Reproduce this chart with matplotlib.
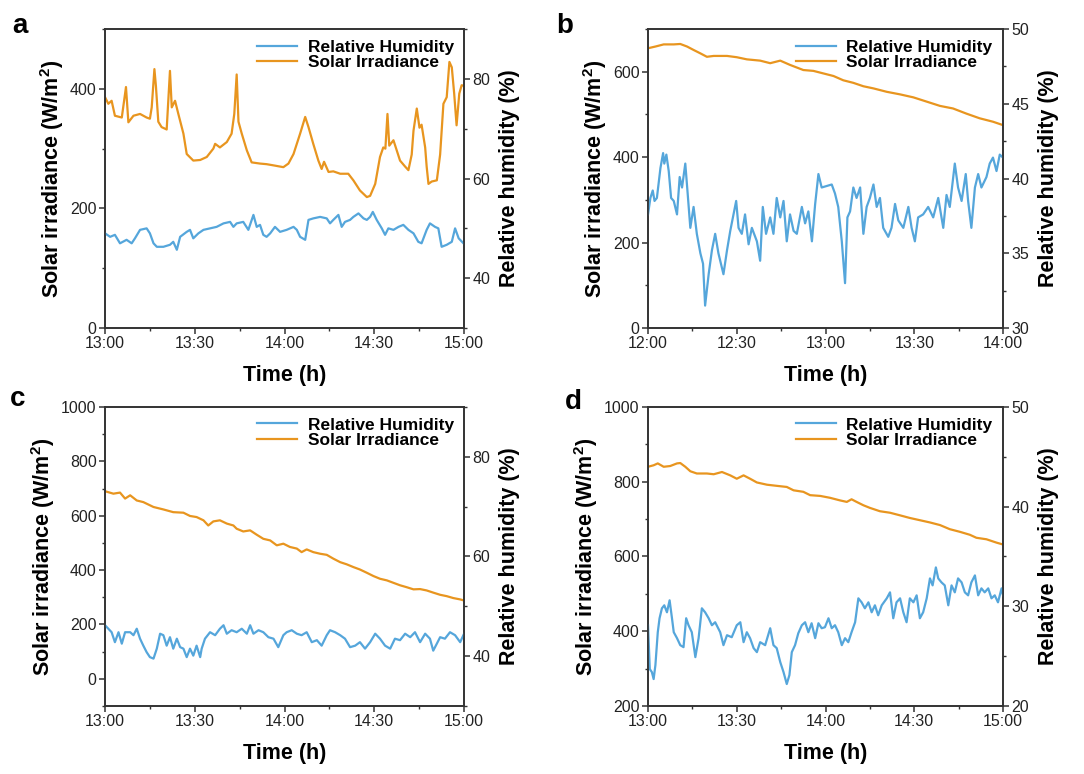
import matplotlib
matplotlib.use("Agg")
import matplotlib.pyplot as plt
from matplotlib.ticker import MultipleLocator

plt.rcParams['font.family'] = ['Liberation Sans', 'DejaVu Sans']
plt.rcParams['mathtext.fontset'] = 'custom'
plt.rcParams['mathtext.rm'] = 'Liberation Sans'
plt.rcParams['mathtext.bf'] = 'Liberation Sans:bold'

BLUE = '#55a6db'
ORANGE = '#e8951f'

# ---- panel a (13:00 - 15:00), minutes after start ----
a_si_t = [0, 1.1, 2.2, 3.3, 5.6, 7.0, 7.8, 9.5, 11.7, 13.9, 15.0, 15.6, 16.5, 17.0, 17.8, 18.9,
          20.6, 21.7, 22.3, 23.4, 24.5, 26.2, 27.3, 29.5, 31.8, 34.0, 36.2, 36.8, 38.4, 40.7,
          42.3, 43.2, 44.0, 44.6, 45.7, 47.4, 49.0, 51.8, 54.0, 56.3, 59.6, 61.3, 63.0, 65.2,
          66.9, 68.0, 69.6, 71.3, 72.4, 73.2, 74.7, 76.3, 78.6, 81.3, 83.0, 85.2, 87.5, 88.6,
          90.3, 91.9, 93.0, 93.7, 94.4, 95.0, 96.4, 97.5, 98.6, 100.3, 101.4, 102.5, 103.1,
          104.2, 105.1, 105.8, 107.0, 107.5, 108.1, 109.2, 110.9, 112.0, 113.1, 114.2, 115.1,
          115.9, 116.7, 117.5, 118.4, 119.2, 120]
a_si = [386, 375, 380, 355, 352, 403, 344, 355, 358, 352, 350, 369, 433, 405, 345, 336,
        332, 430, 369, 380, 358, 325, 291, 280, 281, 286, 300, 308, 302, 311,
        325, 358, 424, 345, 325, 297, 277, 275, 274, 272, 269, 275, 291, 325,
        353, 336, 308, 280, 266, 278, 261, 262, 258, 258, 247, 230, 219, 221,
        241, 286, 302, 300, 358, 305, 314, 297, 280, 270, 264, 290, 330,
        367, 335, 340, 302, 270, 241, 245, 247, 290, 375, 386, 445,
        436, 392, 339, 392, 406, 405]
a_rh_t = [0, 1.7, 3.3, 5.0, 7.2, 8.9, 10.0, 11.7, 13.9, 15.0, 16.2, 17.3, 19.5, 21.7, 22.8,
          24.0, 25.1, 27.3, 28.4, 29.5, 31.2, 32.9, 35.1, 37.3, 39.6, 41.8, 42.9, 44.0, 46.2,
          47.9, 49.6, 50.7, 51.8, 52.9, 54.0, 55.2, 56.8, 58.5, 60.7, 63.0, 64.1, 65.2, 66.9,
          68.0, 69.6, 71.9, 74.1, 75.2, 76.3, 78.0, 79.1, 80.2, 81.9, 83.0, 84.7, 86.4, 87.5,
          88.6, 89.5, 90.8, 92.5, 93.6, 94.7, 96.4, 98.1, 99.7, 101.4, 103.1, 104.7, 105.8,
          107.5, 108.6, 110.3, 111.4, 112.5, 114.2, 115.9, 117.0, 118.2, 119.8]
a_rh = [49.0, 48.3, 48.7, 47.0, 47.7, 47.0, 48.0, 49.7, 50.0, 49.0, 47.0, 46.3, 46.3, 46.7, 47.3,
        45.7, 48.3, 49.3, 49.7, 48.0, 49.0, 49.7, 50.0, 50.3, 51.0, 51.3, 50.3, 51.0, 51.3,
        49.7, 52.7, 50.3, 50.7, 48.7, 48.3, 49.0, 50.3, 49.3, 49.7, 50.3, 49.7, 48.3, 47.7,
        51.7, 52.0, 52.3, 52.0, 51.0, 51.7, 52.7, 50.3, 51.3, 51.7, 52.3, 53.0, 52.0, 51.7,
        52.3, 53.3, 51.7, 50.0, 48.7, 50.0, 49.7, 50.3, 50.7, 49.7, 49.0, 47.3, 47.0,
        49.7, 51.0, 50.3, 50.0, 46.3, 46.7, 47.3, 50.0, 48.0, 47.0]

# ---- panel b (12:00 - 14:00) ----
b_si_t = [0, 2.5, 5.3, 8.7, 10.9, 13.2, 15.4, 17.7, 19.9, 22.2, 26.7, 30.0, 33.4, 37.9, 41.3,
          44.7, 48.0, 52.5, 55.9, 59.3, 62.7, 66.0, 69.4, 72.8, 76.2, 80.7, 85.2, 89.7, 94.2,
          98.7, 103.1, 107.6, 112.1, 116.6, 120]
b_si = [655, 659, 664, 664, 665, 659, 651, 643, 635, 637, 637, 634, 629, 626, 620,
        626, 616, 604, 602, 596, 590, 580, 574, 566, 561, 553, 547, 540, 530,
        520, 514, 502, 491, 483, 475]
b_rh_t = [0.0, 0.8, 1.6, 2.2, 3.0, 4.2, 5.1, 5.5, 6.2, 7.0, 7.8, 8.7, 9.8, 10.7, 11.5, 12.6,
          13.4, 14.3, 15.4, 16.5, 17.7, 18.6, 19.3, 20.5, 21.6, 22.7, 23.8, 25.5, 26.7, 27.8,
          28.9, 29.8, 30.6, 31.7, 32.8, 34.0, 35.1, 36.8, 37.9, 38.8, 39.9, 41.3, 42.4, 43.5,
          44.7, 45.8, 46.9, 48.0, 49.2, 50.3, 52.0, 53.1, 54.2, 55.4, 56.5, 57.6, 58.7, 60.4,
          62.1, 63.2, 64.3, 65.5, 66.6, 67.4, 68.3, 69.4, 70.5, 71.7, 72.8, 73.9, 75.0, 76.2,
          77.3, 78.4, 79.5, 81.2, 82.3, 83.5, 84.6, 86.3, 88.0, 89.1, 90.2, 91.3, 93.0, 94.7,
          96.4, 98.1, 99.8, 100.9, 102.0, 103.7, 104.8, 106.0, 107.4, 108.2, 109.3, 110.5,
          111.6, 112.7, 114.4, 115.5, 116.6, 117.8, 118.9, 120.0]
b_rh = [37.6, 38.7, 39.2, 38.5, 38.7, 40.7, 41.7, 41.0, 41.6, 40.5, 38.7, 38.5, 37.6, 40.1, 39.4, 41.0,
        39.0, 36.7, 38.1, 36.3, 35.0, 34.3, 31.5, 33.6, 35.2, 36.3, 35.0, 33.6, 35.2, 36.5,
        37.6, 38.5, 36.7, 36.3, 37.6, 35.6, 36.7, 35.8, 34.5, 38.1, 36.3, 37.4, 36.3, 38.7,
        37.4, 38.5, 35.8, 37.6, 36.5, 36.3, 38.1, 37.0, 37.8, 35.8, 38.3, 40.3, 39.4, 39.5,
        39.6, 39.0, 38.1, 35.8, 33.0, 37.4, 37.8, 39.4, 38.7, 39.4, 36.3, 38.1, 38.7, 39.6,
        38.1, 38.7, 36.7, 36.1, 36.7, 38.3, 37.2, 36.7, 38.1, 36.7, 35.8, 37.4, 37.6, 38.1,
        37.4, 38.7, 36.7, 38.9, 38.1, 41.0, 39.4, 38.5, 40.3, 38.5, 36.7, 39.4,
        40.3, 39.4, 40.1, 41.0, 41.4, 40.5, 41.6, 41.4]

# ---- panel c (13:00 - 15:00) ----
c_si_t = [0, 2.8, 5.0, 6.7, 8.4, 10.6, 12.8, 16.2, 19.5, 22.8, 26.2, 28.4, 30.6, 32.9, 34.5,
          36.2, 38.4, 40.7, 42.9, 44.0, 46.2, 48.5, 50.7, 52.9, 55.2, 57.4, 59.6, 61.8, 64.1,
          65.7, 67.4, 69.6, 71.9, 74.1, 76.3, 78.6, 80.8, 83.0, 85.2, 87.5, 89.7, 91.9, 94.2,
          96.4, 98.6, 100.8, 103.1, 105.3, 107.5, 109.7, 112.0, 114.2, 116.4, 118.7, 120]
c_si = [690, 681, 685, 663, 675, 656, 650, 632, 623, 613, 611, 599, 595, 583, 564,
        579, 583, 571, 564, 552, 542, 546, 530, 515, 509, 491, 497, 485, 479,
        466, 476, 466, 460, 456, 442, 429, 421, 411, 402, 390, 378, 368, 362,
        353, 344, 337, 329, 330, 325, 317, 309, 304, 297, 292, 288]
c_rh_t = [0, 1.1, 2.2, 3.3, 4.5, 5.6, 6.7, 8.4, 9.5, 10.6, 11.7, 12.8, 13.9, 15.0, 16.2, 17.3,
          18.4, 19.5, 20.6, 21.7, 22.8, 24.0, 25.1, 26.2, 27.3, 28.4, 29.5, 30.6, 31.8, 32.3,
          33.4, 35.1, 36.8, 38.4, 39.6, 40.7, 42.3, 44.0, 45.7, 47.4, 48.5, 49.6, 51.3, 52.9,
          54.6, 56.3, 57.9, 59.6, 60.7, 62.4, 64.1, 65.7, 67.4, 69.1, 70.8, 72.4, 74.1, 75.2,
          76.9, 78.6, 80.2, 81.9, 83.6, 85.2, 86.9, 88.6, 90.3, 91.9, 93.6, 95.3, 96.9, 98.6,
          100.3, 102.0, 103.6, 105.3, 107.0, 108.6, 109.7, 110.9, 112.0, 113.6, 115.3, 117.0,
          118.7, 120]
c_rh = [46.2, 45.5, 44.8, 42.8, 44.8, 42.5, 44.8, 44.8, 44.2, 45.5, 43.5, 42.1, 40.8, 39.8, 39.5, 41.5,
        44.5, 44.2, 42.1, 43.8, 41.5, 43.5, 41.8, 41.5, 39.8, 41.5, 40.1, 42.1, 39.8, 41.5,
        43.5, 44.8, 44.2, 45.5, 46.2, 44.5, 45.2, 44.8, 45.5, 44.5, 46.2, 44.5, 45.2, 44.8,
        43.8, 43.5, 41.8, 44.2, 44.8, 45.2, 44.5, 44.2, 44.8, 42.8, 43.2, 42.1, 44.2, 45.2,
        44.8, 44.2, 43.5, 41.8, 42.1, 42.8, 41.5, 42.8, 44.5, 43.5, 42.1, 41.5, 43.5, 43.2,
        44.5, 43.8, 44.8, 42.8, 44.5, 43.5, 41.1, 42.5, 43.8, 43.5, 44.8, 44.2,
        42.8, 44.5]

# ---- panel d (13:00 - 15:00) ----
d_si_t = [0, 1.9, 3.3, 5.3, 7.5, 9.8, 10.9, 12.6, 14.3, 16.5, 19.9, 22.2, 25.0, 27.8, 30.0,
          32.3, 34.5, 36.8, 40.2, 43.5, 46.9, 49.2, 52.5, 54.8, 58.2, 61.5, 64.9, 67.2, 68.8,
          70.5, 72.8, 75.0, 78.4, 81.8, 85.2, 88.5, 91.9, 95.3, 98.7, 102.0, 105.4, 108.8,
          111.0, 114.4, 117.8, 120]
d_si = [840, 844, 849, 840, 842, 849, 850, 840, 828, 822, 822, 820, 826, 817, 808,
        817, 808, 798, 792, 789, 786, 777, 773, 764, 762, 757, 750, 746, 753,
        746, 737, 730, 721, 717, 710, 703, 697, 691, 684, 673, 666, 658,
        650, 646, 637, 632]
d_rh_t = [0.0, 0.6, 1.3, 1.9, 2.5, 3.3, 3.9, 4.7, 5.5, 6.4, 7.3, 8.1, 8.7, 9.8, 10.9, 12.0,
          12.9, 13.7, 14.8, 16.0, 17.1, 18.2, 19.3, 20.5, 21.6, 22.7, 24.4, 25.5, 26.7, 28.3,
          30.0, 31.2, 32.3, 33.4, 34.5, 35.7, 36.8, 37.9, 39.6, 41.3, 42.4, 43.5, 44.7, 45.8,
          46.9, 47.8, 48.6, 49.7, 50.8, 52.0, 53.1, 54.2, 55.3, 56.5, 57.6, 58.7, 59.8, 61.0,
          62.1, 63.2, 64.3, 65.5, 66.6, 67.7, 68.8, 70.0, 71.1, 72.2, 73.3, 74.5, 75.6, 76.7,
          77.8, 79.0, 80.7, 81.8, 82.9, 84.0, 85.2, 86.3, 87.4, 88.5, 89.7, 90.8, 91.9, 93.0,
          94.2, 95.3, 96.2, 97.3, 98.1, 99.2, 100.3, 101.5, 102.6, 103.7, 104.8, 106.0, 107.1,
          108.2, 109.3, 110.5, 111.6, 112.7, 113.8, 115.0, 116.1, 117.2, 118.3, 119.5, 120.0]
d_rh = [28.1, 23.7, 23.4, 22.7, 24.1, 27.4, 28.8, 29.8, 30.1, 29.4, 30.6, 28.8, 27.4, 26.8, 26.1, 25.9,
        28.8, 28.1, 27.4, 24.9, 26.8, 29.8, 29.4, 28.8, 28.1, 28.4, 27.4, 26.1, 27.1, 26.9,
        28.1, 28.4, 26.4, 27.4, 26.8, 25.8, 25.4, 26.4, 26.1, 27.8, 26.1, 25.8, 24.4, 23.4,
        22.2, 23.1, 25.4, 26.1, 27.3, 28.1, 28.4, 27.4, 28.3, 26.8, 28.3, 27.8, 27.9, 28.8,
        27.8, 28.1, 27.4, 26.1, 26.8, 26.4, 27.4, 28.4, 30.8, 30.4, 29.8, 30.4, 29.4, 30.1,
        29.1, 30.1, 30.8, 31.4, 28.8, 30.4, 30.8, 29.4, 28.4, 30.8, 30.4, 31.1, 28.8, 29.4,
        30.8, 32.8, 32.1, 33.9, 32.8, 32.4, 32.1, 30.1, 32.1, 31.4, 32.8, 32.4, 31.4,
        31.1, 32.4, 33.1, 31.1, 31.8, 31.4, 31.8, 30.8, 31.1, 30.4, 31.8, 31.1]

ticks_a = ['13:00', '13:30', '14:00', '14:30', '15:00']
ticks_b = ['12:00', '12:30', '13:00', '13:30', '14:00']


def draw_panel(rect, letter, letter_xy, si_t, si, rh_t, rh, xlabels, si_lim, si_step,
               rh_lim, rh_step, si_ticks=None):
    ax = fig.add_axes(rect)
    ax2 = ax.twinx()
    l2, = ax.plot(si_t, si, color=ORANGE, lw=1.6, label='Solar Irradiance')
    l1, = ax2.plot(rh_t, rh, color=BLUE, lw=1.6, label='Relative Humidity')
    ax.set_xlim(0, 120)
    ax.set_xticks([0, 30, 60, 90, 120])
    ax.set_xticklabels(xlabels)
    ax.xaxis.set_minor_locator(MultipleLocator(15))
    ax.set_ylim(*si_lim)
    if si_ticks is not None:
        ax.set_yticks(si_ticks)
    else:
        ax.yaxis.set_major_locator(MultipleLocator(si_step))
    ax.yaxis.set_minor_locator(MultipleLocator(si_step / 2))
    ax2.set_ylim(*rh_lim)
    ax2.yaxis.set_major_locator(MultipleLocator(rh_step))
    ax2.yaxis.set_minor_locator(MultipleLocator(rh_step / 2))
    for a in (ax, ax2):
        for s in a.spines.values():
            s.set_color('#333333')
            s.set_linewidth(1.2)
        a.tick_params(which='major', length=4, width=1.1, color='#333333',
                      labelsize=11.5, labelcolor='#222222', pad=2)
        a.tick_params(which='minor', length=2.5, width=1.0, color='#333333')
    ax.set_xlabel('Time (h)', fontsize=15.5, fontweight='bold', labelpad=10)
    ax.set_ylabel(r'Solar irradiance (W/m$^\mathbf{2}$)', fontsize=15.5, fontweight='bold', labelpad=3)
    ax2.set_ylabel('Relative humidity (%)', fontsize=15.5, fontweight='bold', labelpad=6)
    ax2.legend([l1, l2], ['Relative Humidity', 'Solar Irradiance'], loc='upper right',
               frameon=False, prop={'weight': 'bold', 'size': 12.5}, handlelength=2.3,
               labelspacing=0.0, borderaxespad=0.2, handletextpad=0.6)
    fig.text(letter_xy[0], letter_xy[1], letter, fontsize=20, fontweight='bold',
             va='baseline', ha='left')
    return ax


fig = plt.figure(figsize=(10.84, 7.74), dpi=100)

draw_panel([0.0969, 0.5762, 0.3312, 0.3863], 'a', (0.011, 0.958), a_si_t, a_si, a_rh_t, a_rh,
           ticks_a, (0, 500), 200, (30, 90), 20, si_ticks=[0, 200, 400])
draw_panel([0.5978, 0.5762, 0.3275, 0.3863], 'b', (0.513, 0.957), b_si_t, b_si, b_rh_t, b_rh,
           ticks_b, (0, 700), 200, (30, 50), 5)
draw_panel([0.0969, 0.0879, 0.3312, 0.3863], 'c', (0.009, 0.476), c_si_t, c_si, c_rh_t, c_rh,
           ticks_a, (-100, 1000), 200, (30, 90), 20, si_ticks=[0, 200, 400, 600, 800, 1000])
draw_panel([0.5978, 0.0879, 0.3275, 0.3863], 'd', (0.521, 0.472), d_si_t, d_si, d_rh_t, d_rh,
           ticks_a, (200, 1000), 200, (20, 50), 10)

fig.savefig('out.png', dpi=100)
